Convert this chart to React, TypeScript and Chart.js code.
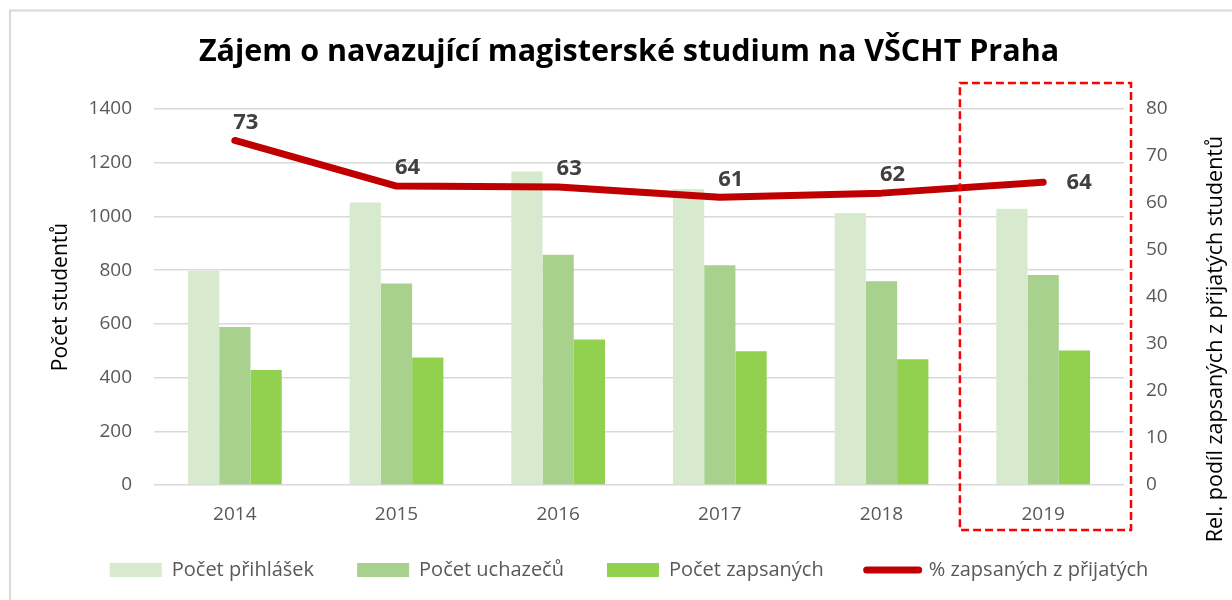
import React, { useEffect, useRef } from 'react';
import { Chart, registerables } from 'chart.js';

Chart.register(...registerables);

// ---- data ----
const years = ['2014', '2015', '2016', '2017', '2018', '2019'];
const prihlasky = [797, 1052, 1167, 1102, 1013, 1029];
const uchazeci = [588, 750, 857, 818, 759, 782];
const zapsani = [428, 475, 542, 498, 468, 501];
const podil = [73.3, 63.6, 63.4, 61.2, 62.1, 64.4];
const seriesNames = ['Počet přihlášek', 'Počet uchazečů', 'Počet zapsaných', '% zapsaných z přijatých'];
const titleText = 'Zájem o navazující magisterské studium na VŠCHT Praha';
const leftAxisTitle = 'Počet studentů';
const rightAxisTitle = 'Rel. podíl zapsaných z přijatých studentů';
const highlightIndex = 5;

const FONT = '"Open Sans", "Noto Sans", sans-serif';
const colors = ['#D8EACE', '#A9D18E', '#92D050'];
const lineColor = '#C00000';

const framePlugin = {
  id: 'frame',
  afterLayout(chart: any) {
    // let the category labels extend below the axis box without being clipped
    const xs = chart.scales.x;
    xs.bottom = xs.top + 50;
  },
  beforeDraw(chart: any) {
    const ctx = chart.ctx;
    ctx.save();
    ctx.fillStyle = '#ffffff';
    ctx.fillRect(0, 0, chart.width, chart.height);
    ctx.strokeStyle = '#D9D9D9';
    ctx.lineWidth = 2;
    ctx.beginPath();
    ctx.moveTo(10, chart.height);
    ctx.lineTo(10, 10.5);
    ctx.lineTo(chart.width, 10.5);
    ctx.stroke();
    ctx.restore();
  },
};

const labelsPlugin = {
  id: 'lineLabels',
  afterDatasetsDraw(chart: any) {
    const ctx = chart.ctx;
    const meta = chart.getDatasetMeta(3);
    ctx.save();
    ctx.font = `bold 22px ${FONT}`;
    ctx.fillStyle = '#404040';
    ctx.textAlign = 'center';
    ctx.textBaseline = 'middle';
    meta.data.forEach((pt: any, i: number) => {
      const v = Math.round(podil[i]).toString();
      if (i === podil.length - 1) {
        ctx.fillText(v, pt.x + 36, pt.y);
      } else {
        ctx.fillText(v, pt.x + 11, pt.y - 18);
      }
    });
    ctx.restore();
  },
};

const overlayPlugin = {
  id: 'overlay',
  afterDraw(chart: any) {
    const ctx = chart.ctx;
    const xs = chart.scales.x;
    const area = chart.chartArea;
    const cx = xs.getPixelForValue(highlightIndex);
    const cw = cx - xs.getPixelForValue(highlightIndex - 1);
    ctx.save();
    ctx.strokeStyle = '#FF0000';
    ctx.lineWidth = 2.5;
    ctx.setLineDash([8, 4]);
    const l = cx - 0.515 * cw;
    const r = area.right + 7;
    const t = area.top - 26;
    const b = area.bottom + 45;
    ctx.strokeRect(l, t, r - l, b - t);
    ctx.setLineDash([]);
    // right axis title, reading bottom to top
    ctx.translate(chart.width - 16, (area.top + area.bottom) / 2 + 42);
    ctx.rotate(-Math.PI / 2);
    ctx.font = `21.5px ${FONT}`;
    ctx.fillStyle = '#000000';
    ctx.textAlign = 'center';
    ctx.textBaseline = 'middle';
    ctx.fillText(rightAxisTitle, 0, 0);
    ctx.restore();
  },
};

export default function App() {
  const ref = useRef<HTMLCanvasElement>(null);
  useEffect(() => {
    if (!ref.current) return;
    const tickFont = { family: FONT, size: 19 };
    const plain = (v: any) => String(v);
    const chart = new Chart(ref.current, {
      type: 'bar',
      data: {
        labels: years,
        datasets: [
          { label: seriesNames[0], data: prihlasky, backgroundColor: colors[0], yAxisID: 'y', order: 1, categoryPercentage: 0.58, barPercentage: 1.0 },
          { label: seriesNames[1], data: uchazeci, backgroundColor: colors[1], yAxisID: 'y', order: 1, categoryPercentage: 0.58, barPercentage: 1.0 },
          { label: seriesNames[2], data: zapsani, backgroundColor: colors[2], yAxisID: 'y', order: 1, categoryPercentage: 0.58, barPercentage: 1.0 },
          {
            type: 'line', label: seriesNames[3], data: podil, yAxisID: 'y1', order: 0,
            borderColor: lineColor, backgroundColor: lineColor, borderWidth: 7,
            borderCapStyle: 'round', borderJoinStyle: 'round', pointRadius: 0, tension: 0,
          } as any,
        ],
      },
      options: {
        responsive: false,
        animation: false,
        layout: { padding: { left: 26, right: 0, top: 0, bottom: 10 } },
        plugins: {
          title: {
            display: true, text: titleText, color: '#000000',
            font: { family: FONT, size: 30.5, weight: 'bold' },
            padding: { top: 34, bottom: 38.4 },
          },
          legend: {
            position: 'bottom',
            labels: {
              font: { family: FONT, size: 20 }, color: '#595959',
              usePointStyle: true, pointStyleWidth: 52, boxHeight: 14, padding: 43,
              sort: (a: any, b: any) => a.datasetIndex - b.datasetIndex,
              generateLabels: (c: any) => {
                const items = (Chart.defaults.plugins.legend.labels as any).generateLabels(c);
                items.forEach((it: any) => {
                  if (it.datasetIndex < 3) {
                    it.pointStyle = 'rect';
                    it.lineWidth = 0;
                    it.strokeStyle = it.fillStyle;
                  } else {
                    it.pointStyle = 'line';
                    it.lineWidth = 7;
                    it.strokeStyle = lineColor;
                    it.lineCap = 'round';
                  }
                });
                return items;
              },
            },
          },
          tooltip: { enabled: false },
        },
        scales: {
          x: {
            grid: { display: false, drawTicks: false },
            border: { display: false },
            ticks: { font: tickFont, color: '#595959', padding: 18 },
            afterFit: (s: any) => { s.height = 32; },
          },
          y: {
            position: 'left', min: 0, max: 1400,
            ticks: { stepSize: 200, padding: 22, font: tickFont, color: '#595959', callback: plain },
            grid: { color: '#D9D9D9', lineWidth: 1.5, drawTicks: false },
            border: { display: false },
            title: { display: true, text: leftAxisTitle, color: '#000000', font: { family: FONT, size: 21 }, padding: { top: 22, bottom: 0 } },
            afterFit: (s: any) => { s.width = 128; },
          },
          y1: {
            position: 'right', min: 0, max: 80,
            ticks: { stepSize: 10, padding: 22, font: tickFont, color: '#595959', callback: plain },
            grid: { display: false, drawTicks: false },
            border: { display: false },
            afterFit: (s: any) => { s.width = 108; },
          },
        },
      } as any,
      plugins: [framePlugin, labelsPlugin, overlayPlugin],
    });
    return () => chart.destroy();
  }, []);
  return (
    <div style={{ position: 'absolute', left: 0, top: 0, width: 1232, height: 600 }}>
      <canvas ref={ref} width={1232} height={600} style={{ display: 'block', width: 1232, height: 600 }} />
    </div>
  );
}
